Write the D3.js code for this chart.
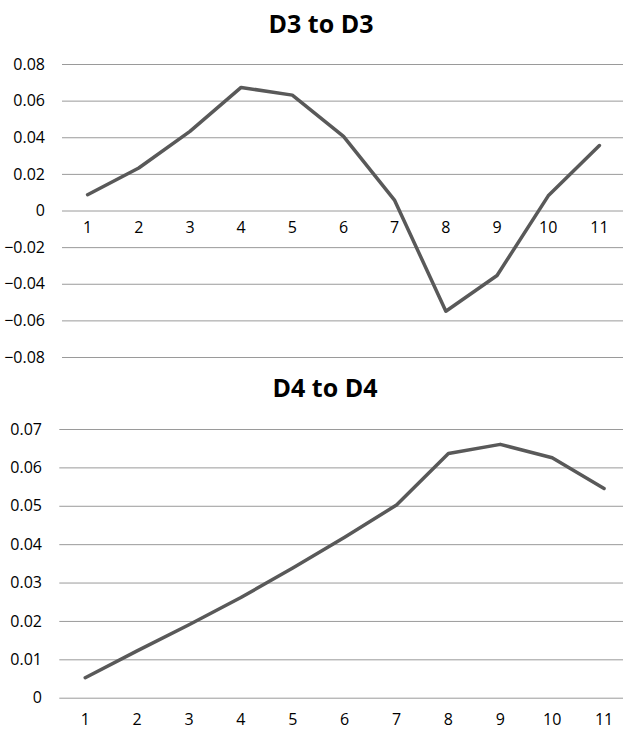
<!DOCTYPE html>
<html>
<head>
<meta charset="utf-8">
<script src="https://cdn.jsdelivr.net/npm/d3@7"></script>
<style>
  body { margin: 0; background: #fff; }
  text { font-family: "Open Sans", "Noto Sans", sans-serif; fill: #000; }
</style>
</head>
<body>
<svg id="chart" width="623" height="736"></svg>
<script>
var categories = ["1", "2", "3", "4", "5", "6", "7", "8", "9", "10", "11"];

var d3Values = [0.0086, 0.0232, 0.0432, 0.0672, 0.0630, 0.0405, 0.0055, -0.0550, -0.0355, 0.0080, 0.0355];
var d4Values = [0.0052, 0.0122, 0.0190, 0.0261, 0.0338, 0.0418, 0.0502, 0.0636, 0.0660, 0.0625, 0.0545];

var d3Ticks = [-0.08, -0.06, -0.04, -0.02, 0, 0.02, 0.04, 0.06, 0.08];
var d4Ticks = [0, 0.01, 0.02, 0.03, 0.04, 0.05, 0.06, 0.07];

var svg = d3.select("#chart");

function drawPanel(opts) {
    var g = svg.append("g");

    var x = d3.scaleBand()
        .domain(categories)
        .range([opts.left, opts.right]);

    var y = d3.scaleLinear()
        .domain(opts.domain)
        .range([opts.bottom, opts.top]);

    // title
    g.append("text")
        .attr("x", opts.titleX)
        .attr("y", opts.titleY)
        .attr("text-anchor", "middle")
        .style("font-size", "25px")
        .style("font-weight", "bold")
        .text(opts.title);

    // gridlines + y labels
    var yAxis = d3.axisLeft(y)
        .tickValues(opts.ticks)
        .tickSize(-(623 - opts.left))
        .tickPadding(opts.left - opts.labelRight)
        .tickFormat(function(d) { return d === 0 ? "0" : d3.format(".2f")(d); });

    var ya = g.append("g")
        .attr("transform", "translate(" + opts.left + ",0)")
        .call(yAxis);
    ya.select(".domain").remove();
    ya.selectAll(".tick line").attr("stroke", "#9a9a9a").attr("stroke-width", 1);
    ya.selectAll(".tick text").style("font-size", "16px").attr("fill", "#000");

    // x labels
    var xa = g.append("g")
        .attr("transform", "translate(0," + y(0) + ")")
        .call(d3.axisBottom(x).tickSize(0).tickPadding(opts.xPad));
    xa.select(".domain").remove();
    xa.selectAll(".tick text").style("font-size", "16px").attr("fill", "#000");

    var line = d3.line()
        .x(function(d, i) { return x(categories[i]) + x.bandwidth() / 2; })
        .y(function(d) { return y(d); });

    g.append("path")
        .datum(opts.values)
        .attr("d", line)
        .attr("fill", "none")
        .attr("stroke", "#595959")
        .attr("stroke-width", 3.5)
        .attr("stroke-linejoin", "round")
        .attr("stroke-linecap", "round");
}

drawPanel({
    title: "D3 to D3",
    titleX: 321, titleY: 33,
    values: d3Values,
    ticks: d3Ticks,
    domain: [-0.08, 0.08],
    top: 64, bottom: 357,
    left: 62, right: 625,
    labelRight: 45,
    xPad: 11
});

drawPanel({
    title: "D4 to D4",
    titleX: 325, titleY: 397,
    values: d4Values,
    ticks: d4Ticks,
    domain: [0, 0.07],
    top: 429, bottom: 697.7,
    left: 59.3, right: 630,
    labelRight: 42,
    xPad: 16
});
</script>
</body>
</html>
